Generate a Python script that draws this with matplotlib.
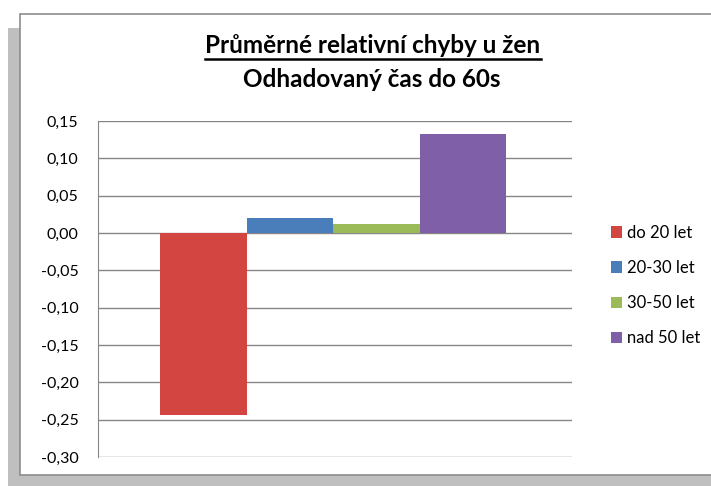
import matplotlib.pyplot as plt
from matplotlib.patches import Rectangle
from matplotlib.lines import Line2D
from matplotlib.ticker import FuncFormatter

# data
groups = ['do 20 let', '20-30 let', '30-50 let', 'nad 50 let']
values = [-0.244, 0.020, 0.012, 0.132]
colors = ['#d24541', '#4a7ebb', '#9bbb59', '#7f5fa8']

plt.rcParams['font.family'] = ['Lato', 'DejaVu Sans']

W, H = 711, 486
fig = plt.figure(figsize=(W / 100, H / 100), dpi=100)

# shadow + framed chart area like the Excel export
fig.patches.append(Rectangle((8 / W, 0), 1, 1 - 28 / H, transform=fig.transFigure,
                             facecolor='#bfbfbf', edgecolor='none', zorder=-2))
fig.patches.append(Rectangle((20 / W, 11 / H), 1, 1 - 25 / H, transform=fig.transFigure,
                             facecolor='white', edgecolor='#8c8c8c', lw=1.2, zorder=-1))

ax = fig.add_axes([98 / W, 1 - 457 / H, (572 - 98) / W, (457 - 121) / H])
ax.set_facecolor('none')

bw = 0.1825
start = -2 * bw + 0.5 * bw - 0.004
for i, (g, v, c) in enumerate(zip(groups, values, colors)):
    ax.bar(start + i * bw, v, width=bw, color=c, label=g, zorder=3)

ax.set_xlim(-0.5, 0.5)
ax.set_ylim(-0.30, 0.15)
ax.set_yticks([i * 0.05 - 0.30 for i in range(10)])
ax.yaxis.set_major_formatter(FuncFormatter(lambda v, p: f'{v:.2f}'.replace('.', ',').replace('-0,00', '0,00')))
ax.set_xticks([])
ax.grid(axis='y', color='#868686', lw=1.0, zorder=0)
for s in ['top', 'right', 'bottom']:
    ax.spines[s].set_visible(False)
ax.spines['left'].set_color('#868686')
ax.tick_params(axis='y', length=0, labelsize=11.5, pad=14)

leg = ax.legend(loc='center left', bbox_to_anchor=(1.05, 0.51), frameon=False,
                fontsize=12, handlelength=0.7, handleheight=0.7, handletextpad=0.3,
                labelspacing=1.15)

t1 = fig.text(373 / W, 1 - 53 / H, 'Průměrné relativní chyby u žen', ha='center', va='baseline',
              fontsize=17.5, fontweight='bold')
fig.text(372 / W, 1 - 87 / H, 'Odhadovaný čas do 60s', ha='center', va='baseline',
         fontsize=17.5, fontweight='bold')

# underline the first title line
fig.canvas.draw()
bb = t1.get_window_extent().transformed(fig.transFigure.inverted())
fig.add_artist(Line2D([bb.x0, bb.x1], [1 - 59 / H, 1 - 59 / H], color='black', lw=1.8,
                      transform=fig.transFigure))

fig.savefig('out.png', dpi=100)
